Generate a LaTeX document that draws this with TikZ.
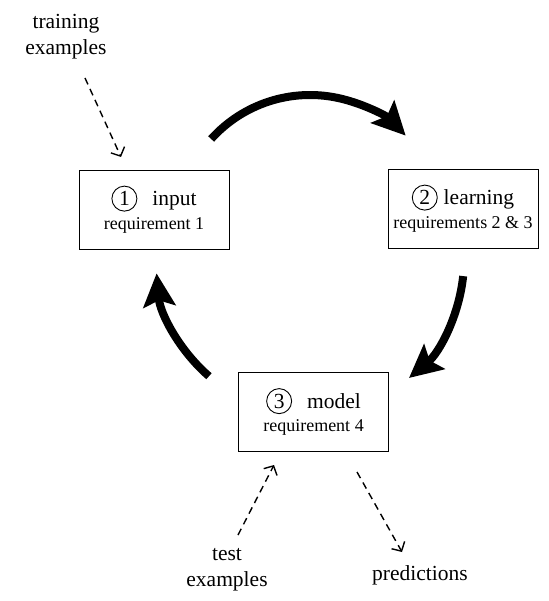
\documentclass[tikz,border=0pt]{standalone}
\usepackage{fontspec}
\setmainfont{Liberation Serif}
\usetikzlibrary{arrows.meta}
\newcommand\circnum[1]{\tikz[baseline=(cn.base)]\node[circle,draw,line width=0.9pt,inner sep=0pt,minimum size=25pt](cn){#1};}
\tikzset{
  stagebox/.style={draw,line width=0.9pt,minimum width=150pt,minimum height=79pt,align=center,inner sep=0pt},
  bigtext/.style={font=\fontsize{21.5}{26}\selectfont},
  bigarrow/.style={line width=8pt,-{Stealth[length=33pt,width=32pt,inset=6pt]}},
  dasharrow/.style={line width=1.4pt,dash pattern=on 7pt off 5pt,-{Straight Barb[length=7pt,width=15pt,line width=1.4pt]}},
}
\begin{document}
\begin{tikzpicture}[x=1pt,y=1pt]
\useasboundingbox (0,0) rectangle (548,-601);
\node[stagebox] (input) at (154,-209.5) {{\fontsize{21.5}{26}\selectfont\circnum{1}\hspace{15pt}input}\\[5pt]{\fontsize{18}{22}\selectfont requirement 1}};
\node[stagebox] (learning) at (463,-208.5) {{\fontsize{21.5}{26}\selectfont\circnum{2}\hspace{6pt}learning}\\[5pt]{\fontsize{18}{22}\selectfont requirements 2 \& 3}};
\node[stagebox] (model) at (313.5,-412) {{\fontsize{21.5}{26}\selectfont\circnum{3}\hspace{15pt}model}\\[5pt]{\fontsize{18}{22}\selectfont requirement 4}};
\node[bigtext,align=center] (train) at (66,-37) {training\\examples};
\node[bigtext,align=center] (test) at (227,-570) {test\\examples};
\node[bigtext] (pred) at (420,-575) {predictions};
\coordinate (cyc) at (310,-260);
\coordinate (topc) at (310,-228);
\draw[bigarrow] ([shift={(138:133)}]topc) arc[start angle=138,end angle=44,radius=133];
\draw[bigarrow] ([shift={(-6:154)}]cyc) arc[start angle=-6,end angle=-50,radius=154];
\draw[bigarrow] ([shift={(229:154)}]cyc) arc[start angle=229,end angle=185,radius=154];
\coordinate (trs) at (85,-78);
\coordinate (tre) at (121,-157);
\coordinate (tes) at (238,-535);
\coordinate (tee) at (274,-465);
\coordinate (prs) at (357,-472);
\coordinate (pre) at (402,-552);
\draw[dasharrow] (trs) -- (tre);
\draw[dasharrow] (tes) -- (tee);
\draw[dasharrow] (prs) -- (pre);
\end{tikzpicture}
\end{document}
